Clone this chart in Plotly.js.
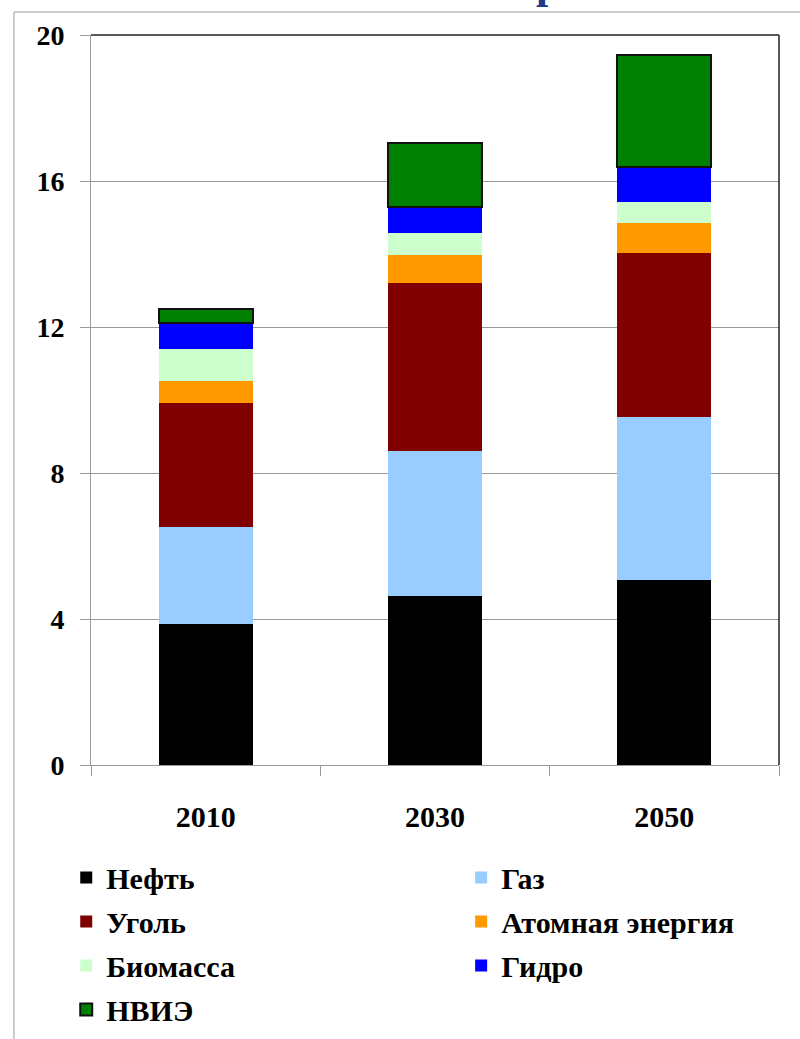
<!DOCTYPE html>
<html>
<head>
<meta charset="utf-8">
<script src="https://cdn.plot.ly/plotly-3.0.1.min.js"></script>
<style>
  html, body { margin: 0; padding: 0; background: #fff; }
  #chart { width: 800px; height: 1039px; }
</style>
</head>
<body>
<div id="chart"></div>
<script>
const years = ['2010', '2030', '2050'];
const seriesNames = ['Нефть', 'Газ', 'Уголь', 'Атомная энергия', 'Биомасса', 'Гидро', 'НВИЭ'];
const oil     = [3.86, 4.62, 5.07];
const gas     = [2.67, 3.99, 4.46];
const coal    = [3.38, 4.59, 4.49];
const nuclear = [0.62, 0.76, 0.84];
const biomass = [0.86, 0.61, 0.57];
const hydro   = [0.71, 0.71, 0.95];
const renew   = [0.39, 1.75, 3.06];
const yTicks  = [0, 4, 8, 12, 16, 20];

const values = [oil, gas, coal, nuclear, biomass, hydro, renew];
const colors = ['#000000', '#99CCFF', '#800000', '#FF9900', '#CCFFCC', '#0000FF', '#008000'];
// left legend column: Нефть, Уголь, Биомасса, НВИЭ; right column: Газ, Атомная энергия, Гидро
const legendOf = ['legend', 'legend2', 'legend', 'legend2', 'legend', 'legend2', 'legend'];

const serif = '"Liberation Serif", "Times New Roman", serif';
const legendFont = {family: serif, size: 30, color: '#000000', weight: 'bold'};

const traces = seriesNames.map((name, i) => ({
  type: 'bar',
  name: name,
  x: years,
  y: values[i],
  legend: legendOf[i],
  legendgroup: 'g' + i,
  marker: {
    color: colors[i],
    line: i === 6 ? {color: '#111111', width: 2} : {width: 0}
  },
  hoverinfo: 'name+y'
}));

const legendTop = -0.1185;

const layout = {
  width: 800,
  height: 1039,
  margin: {l: 91, r: 21, t: 35, b: 274, autoexpand: false},
  paper_bgcolor: '#ffffff',
  plot_bgcolor: '#ffffff',
  barmode: 'stack',
  bargap: 0.59,
  showlegend: true,
  xaxis: {
    type: 'category',
    tickson: 'boundaries',
    ticks: 'outside',
    ticklen: 10,
    tickcolor: '#999999',
    showline: true,
    linecolor: '#999999',
    linewidth: 1,
    showgrid: false,
    ticklabelstandoff: 25,
    tickfont: {family: serif, size: 30, color: '#000000', weight: 'bold'}
  },
  yaxis: {
    range: [0, 20],
    tickvals: yTicks,
    ticktext: yTicks.map(String),
    ticks: 'outside',
    ticklen: 10,
    tickcolor: '#999999',
    showline: true,
    linecolor: '#999999',
    linewidth: 1,
    showgrid: true,
    gridcolor: '#999999',
    gridwidth: 1,
    zeroline: false,
    ticklabelstandoff: 10,
    tickfont: {family: serif, size: 28, color: '#000000', weight: 'bold'}
  },
  legend: {
    orientation: 'v',
    traceorder: 'grouped',
    tracegroupgap: 2,
    x: -0.036,
    xanchor: 'left',
    y: legendTop,
    yanchor: 'top',
    font: legendFont,
    bgcolor: 'rgba(0,0,0,0)'
  },
  legend2: {
    orientation: 'v',
    traceorder: 'grouped',
    tracegroupgap: 2,
    x: 0.538,
    xanchor: 'left',
    y: legendTop,
    yanchor: 'top',
    font: legendFont,
    bgcolor: 'rgba(0,0,0,0)'
  },
  shapes: [
    {type: 'line', xref: 'paper', yref: 'paper', x0: 0, x1: 1, y0: 1, y1: 1,
     line: {color: '#222222', width: 1.5}},
    {type: 'line', xref: 'paper', yref: 'paper', x0: 1, x1: 1, y0: 0, y1: 1,
     line: {color: '#222222', width: 1.5}},
    {type: 'line', xref: 'paper', yref: 'paper', x0: -0.112, x1: 1.2, y0: 1.0315, y1: 1.0315,
     line: {color: '#999999', width: 1}},
    {type: 'line', xref: 'paper', yref: 'paper', x0: -0.112, x1: -0.112, y0: 1.0315, y1: -0.5,
     line: {color: '#999999', width: 1}}
  ],
  annotations: [
    {text: 'р', xref: 'paper', yref: 'paper', x: (548 - 91) / 688, y: (765 - 10) / 730,
     xanchor: 'center', yanchor: 'bottom', showarrow: false,
     font: {family: serif, size: 44, color: '#1B3A8C', weight: 'bold'}}
  ]
};

Plotly.newPlot('chart', traces, layout, {displayModeBar: false, staticPlot: true});
</script>
</body>
</html>
